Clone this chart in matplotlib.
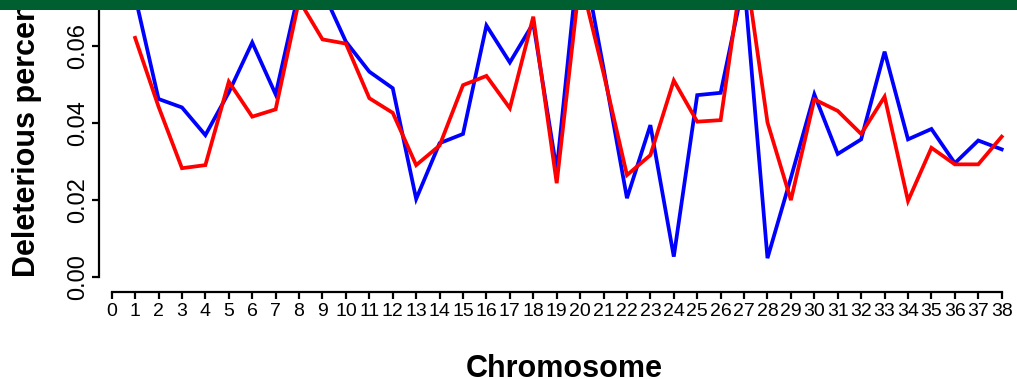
import matplotlib
matplotlib.use("Agg")
import matplotlib.pyplot as plt
from matplotlib.patches import Rectangle

chromosomes = list(range(1, 39))
blue_values = [0.0730, 0.0463, 0.0441, 0.0369, 0.0480, 0.0610, 0.0475, 0.0745, 0.0745, 0.0612,
               0.0534, 0.0491, 0.0203, 0.0348, 0.0372, 0.0654, 0.0558, 0.0660, 0.0278, 0.0870,
               0.0543, 0.0205, 0.0395, 0.0053, 0.0473, 0.0479, 0.0770, 0.0049, 0.0258, 0.0475,
               0.0320, 0.0358, 0.0586, 0.0358, 0.0385, 0.0296, 0.0355, 0.0332]
red_values = [0.0622, 0.0443, 0.0283, 0.0291, 0.0508, 0.0417, 0.0436, 0.0720, 0.0618, 0.0607,
              0.0465, 0.0427, 0.0291, 0.0342, 0.0499, 0.0523, 0.0439, 0.0677, 0.0244, 0.0780,
              0.0530, 0.0265, 0.0317, 0.0511, 0.0404, 0.0408, 0.0830, 0.0402, 0.0200, 0.0462,
              0.0432, 0.0372, 0.0469, 0.0198, 0.0336, 0.0293, 0.0293, 0.0365]
x_ticks = list(range(0, 39))
y_ticks = [0.00, 0.02, 0.04, 0.06]
y_tick_labels = ["0.00", "0.02", "0.04", "0.06"]
x_label = "Chromosome"
y_label = "Deleterious percentage"

plt.rcParams['font.family'] = ['Liberation Sans', 'DejaVu Sans']

W, H = 1017, 379
fig = plt.figure(figsize=(W / 100, H / 100), dpi=100)

ax_left_px, ax_right_px = 99, 1013.4
ax_bottom_px, ax_top_px = 291.7, 0
ax = fig.add_axes([ax_left_px / W, (H - ax_bottom_px) / H,
                   (ax_right_px - ax_left_px) / W, (ax_bottom_px - ax_top_px) / H])

ax.plot(chromosomes, blue_values, color='#0000FF', lw=2.7, solid_joinstyle='miter', zorder=2)
ax.plot(chromosomes, red_values, color='#FF0000', lw=2.7, solid_joinstyle='miter', zorder=3)

ax.set_xlim(-0.542, 38.5)
ax.set_ylim(-0.00382, 0.07204)

for s in ['top', 'right']:
    ax.spines[s].set_visible(False)
ax.spines['left'].set_bounds(0, 0.09)
ax.spines['bottom'].set_bounds(0, 38)
ax.spines['left'].set_linewidth(1.6)
ax.spines['bottom'].set_linewidth(1.6)

ax.set_xticks(x_ticks)
ax.set_xticklabels([str(t) for t in x_ticks])
ax.set_yticks(y_ticks)
ax.set_yticklabels(y_tick_labels, rotation=90, va='center')
ax.tick_params(axis='x', direction='out', length=4.7, width=1.6, pad=3.5, labelsize=14)
ax.tick_params(axis='y', direction='out', length=5.2, width=1.6, pad=2.0, labelsize=17)

fig.text(27 / W, (H - 277) / H, y_label, rotation=90, ha='center', va='bottom',
         fontsize=22, fontweight='bold')
fig.text(564.7 / W, 2.3 / H, x_label, ha='center', va='baseline',
         fontsize=22, fontweight='bold')

fig.add_artist(Rectangle((0, (H - 10) / H), 1, 10 / H, transform=fig.transFigure,
                         facecolor='#005F30', edgecolor='none', zorder=10))

fig.savefig('out.png', dpi=100)
